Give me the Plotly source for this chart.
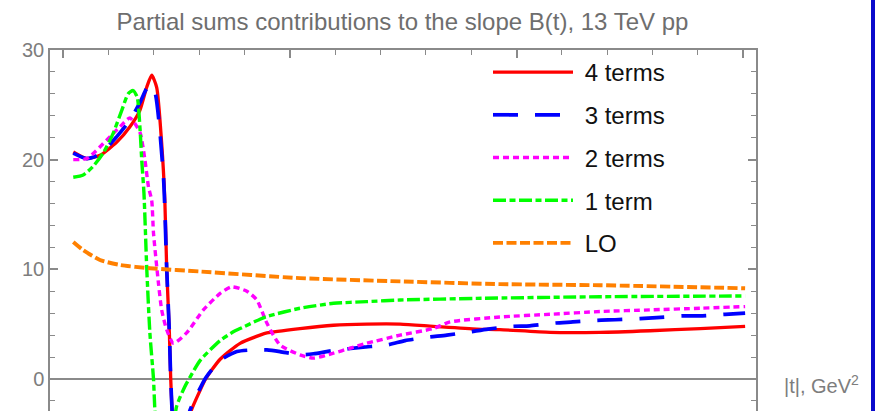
import plotly.graph_objects as go

# |t| in GeV^2 and slope B(t) for each partial sum
t_4 = [0.022, 0.052, 0.081, 0.118, 0.147, 0.169, 0.184, 0.195, 0.206, 0.217, 0.224, 0.228,
       0.234, 0.237, 0.241, 0.247, 0.256, 0.268, 0.283, 0.300, 0.314, 0.346, 0.390, 0.434,
       0.449, 0.522, 0.596, 0.669, 0.743, 0.816, 0.912, 0.963, 1.074, 1.184, 1.294, 1.405, 1.504]
b_4 = [20.7, 20.1, 20.4, 21.6, 23.0, 24.5, 26.6, 27.7, 26.6, 21.5, 16.3, 10.2,
       4.2, 0.0, -3.5, -6.0, -6.5, -4.8, -2.8, -1.2, 0.0, 1.8, 3.25, 4.0,
       4.2, 4.6, 4.9, 5.0, 5.0, 4.8, 4.55, 4.5, 4.25, 4.25, 4.4, 4.6, 4.8]

t_3 = [0.022, 0.052, 0.081, 0.118, 0.147, 0.169, 0.184, 0.191, 0.202, 0.221, 0.228, 0.234,
       0.237, 0.241, 0.250, 0.265, 0.280, 0.314, 0.346, 0.383, 0.419, 0.449, 0.478, 0.522,
       0.552, 0.596, 0.661, 0.714, 0.754, 0.802, 0.846, 0.897, 0.937, 0.990, 1.029, 1.085,
       1.124, 1.177, 1.217, 1.272, 1.309, 1.365, 1.404, 1.460, 1.504]
b_3 = [20.6, 20.1, 20.5, 22.1, 23.6, 25.2, 26.5, 26.8, 26.2, 18.4, 10.2, 4.2,
       0.0, -3.5, -6.5, -5.0, -2.8, 0.1, 1.7, 2.5, 2.65, 2.65, 2.5, 2.2,
       2.3, 2.6, 2.9, 3.1, 3.5, 3.8, 4.0, 4.3, 4.55, 4.8, 4.85, 5.1,
       5.2, 5.35, 5.4, 5.5, 5.6, 5.75, 5.75, 5.9, 6.0]

t_2 = [0.022, 0.052, 0.096, 0.125, 0.147, 0.169, 0.180, 0.188, 0.195, 0.199, 0.210, 0.217,
       0.228, 0.243, 0.272, 0.309, 0.346, 0.371, 0.405, 0.427, 0.449, 0.478, 0.522, 0.552,
       0.596, 0.632, 0.669, 0.743, 0.816, 0.853, 0.963, 1.074, 1.184, 1.294, 1.405, 1.504]
b_2 = [20.0, 20.1, 21.8, 23.0, 23.8, 22.5, 20.0, 17.5, 16.3, 13.3, 8.7, 6.3,
       4.5, 3.25, 4.2, 6.3, 7.8, 8.4, 8.0, 7.2, 5.1, 3.1, 2.2, 1.9,
       2.35, 2.8, 3.25, 4.0, 4.6, 5.2, 5.65, 5.9, 6.15, 6.3, 6.45, 6.6]

t_1 = [0.022, 0.044, 0.066, 0.088, 0.110, 0.129, 0.143, 0.154, 0.163, 0.169, 0.173, 0.178,
       0.184, 0.191, 0.199, 0.202, 0.212, 0.228, 0.250, 0.268, 0.280, 0.302, 0.346, 0.375,
       0.390, 0.434, 0.449, 0.522, 0.596, 0.669, 0.743, 0.912, 1.184, 1.504]
b_1 = [18.4, 18.6, 19.4, 20.6, 22.4, 24.5, 26.0, 26.3, 25.7, 23.0, 20.0, 16.9,
       10.2, 4.2, 0.0, -2.8, -8.0, -8.0, -2.5, -0.7, 0.2, 1.7, 3.5, 4.3,
       4.6, 5.45, 5.7, 6.45, 6.9, 7.05, 7.2, 7.35, 7.5, 7.57]

t_lo = [0.022, 0.044, 0.081, 0.125, 0.191, 0.302, 0.522, 0.743, 0.963, 1.184, 1.504]
b_lo = [12.5, 11.75, 10.85, 10.4, 10.1, 9.8, 9.2, 8.9, 8.65, 8.55, 8.27]

series = [
    ("4 terms", t_4, b_4, "#ff0000", "solid", 3.3),
    ("3 terms", t_3, b_3, "#0000ff", "25px,17px", 3.7),
    ("2 terms", t_2, b_2, "#ff00ff", "6px,4px", 3.4),
    ("1 term", t_1, b_1, "#00ff00", "13px,3.5px,6px,3.5px", 3.4),
    ("LO", t_lo, b_lo, "#ff8000", "10px,3.5px", 3.9),
]

fig = go.Figure()
for i, (name, tx, by, color, dash, width) in enumerate(series):
    fig.add_trace(go.Scatter(
        x=tx, y=by, mode="lines", name="\u00a0" + name, legendgroup=f"g{i}",
        line=dict(color=color, dash=dash, width=width, shape="spline", smoothing=0.6),
    ))

axis_gray = "#8a8a8a"
label_gray = "#7d7d7d"

fig.update_layout(
    width=875, height=411,
    margin=dict(l=50, r=119, t=50, b=0),
    paper_bgcolor="white", plot_bgcolor="white",
    font=dict(family="Liberation Sans, Arial, sans-serif"),
    title=dict(
        text="Partial sums contributions to the slope B(t), 13 TeV pp",
        font=dict(size=24, color="#6e6e6e"),
        x=402.5 / 875, xref="container", xanchor="center",
        y=1 - 22 / 411, yref="container", yanchor="middle",
    ),
    showlegend=True,
    legend=dict(
        x=(488 - 50) / 706, y=1.0, xanchor="left", yanchor="top",
        font=dict(size=24, color="#111111"),
        bgcolor="rgba(0,0,0,0)", itemwidth=80, traceorder="grouped", tracegroupgap=8.5,
    ),
    xaxis=dict(
        range=[-0.0293, 1.528], side="top", showgrid=False, zeroline=False,
        showline=True, linecolor=axis_gray, linewidth=1.5,
        ticks="inside", tickcolor=axis_gray, ticklen=8, tickwidth=1.5,
        dtick=0.5, tick0=0, showticklabels=False,
        minor=dict(dtick=0.1, tick0=0, ticks="inside", ticklen=5, tickcolor=axis_gray, tickwidth=1.2),
    ),
    yaxis=dict(
        range=[-2.92, 30], showgrid=False,
        zeroline=True, zerolinecolor=axis_gray, zerolinewidth=1.5,
        showline=True, linecolor=axis_gray, linewidth=1.5, mirror="ticks",
        ticks="inside", tickcolor=axis_gray, ticklen=8, tickwidth=1.5,
        dtick=10, tick0=0,
        tickfont=dict(size=20, color=label_gray),
        minor=dict(dtick=2, tick0=0, ticks="inside", ticklen=5, tickcolor=axis_gray, tickwidth=1.2),
    ),
)

fig.add_annotation(
    text="|t|, GeV<sup>2</sup>", xref="paper", x=(782 - 50) / 706, xanchor="left",
    yref="y", y=-0.5, yanchor="middle", showarrow=False,
    font=dict(size=20, color=label_gray),
)

# blue border strip along the right edge of the page
fig.add_shape(type="rect", xref="paper", yref="paper",
              x0=(871 - 50) / 706, x1=(880 - 50) / 706, y0=-0.05, y1=1.2,
              fillcolor="#0a0acc", line=dict(width=0), layer="above")

fig.write_html("out.html")
